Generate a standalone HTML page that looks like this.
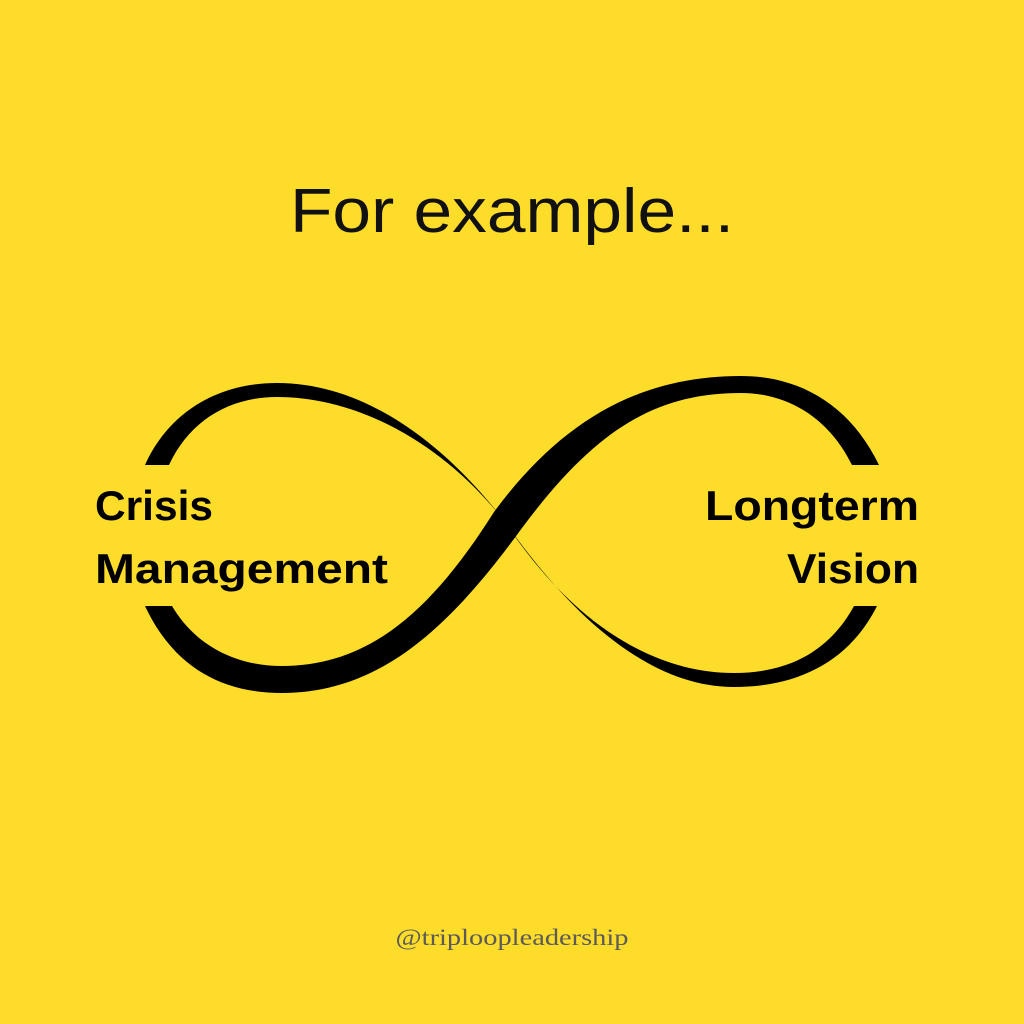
<!DOCTYPE html>
<html><head><meta charset="utf-8"><style>
html,body{margin:0;padding:0;background:#FEDC2A;}
svg{display:block}
</style></head><body>
<svg width="1024" height="1024" viewBox="0 0 1024 1024" xmlns="http://www.w3.org/2000/svg">
<rect width="1024" height="1024" fill="#FEDC2A"/>
<text x="512" y="232" text-anchor="middle" font-family="Liberation Sans, sans-serif" font-size="62" fill="#111" textLength="444" lengthAdjust="spacingAndGlyphs">For example...</text>
<path fill="#000" d="M145,606 C175,670 225,693 282,693 C385,693 455,620 522,528 C595,430 655,393 741,393 C790,393 830,420 852,465 L879,465 C850,405 800,376 741,376 C640,376 562,420 494,512 C432,610 370,666 282,666 C235,666 195,645 172,606 Z"/>
<path fill="#000" d="M145,465 C170,410 220,383 277,383 C370,383 450,450 505,522 C560,600 640,687 734,687 C800,687 850,660 877,606 L854,606 C830,650 790,673 734,673 C650,673 570,620 505,522 C445,445 360,397 277,397 C230,397 190,420 169,465 Z"/>
<g font-family="Liberation Sans, sans-serif" font-weight="bold" font-size="42" fill="#000">
<text x="95" y="520" textLength="118" lengthAdjust="spacingAndGlyphs">Crisis</text>
<text x="95" y="583" textLength="293" lengthAdjust="spacingAndGlyphs">Management</text>
<text x="919" y="520" text-anchor="end" textLength="214" lengthAdjust="spacingAndGlyphs">Longterm</text>
<text x="919" y="583" text-anchor="end" textLength="132" lengthAdjust="spacingAndGlyphs">Vision</text>
</g>
<text x="512" y="945" text-anchor="middle" font-family="Liberation Serif, serif" font-size="23" fill="#5a5a5a" textLength="233" lengthAdjust="spacingAndGlyphs">@triploopleadership</text>
</svg>
</body></html>
